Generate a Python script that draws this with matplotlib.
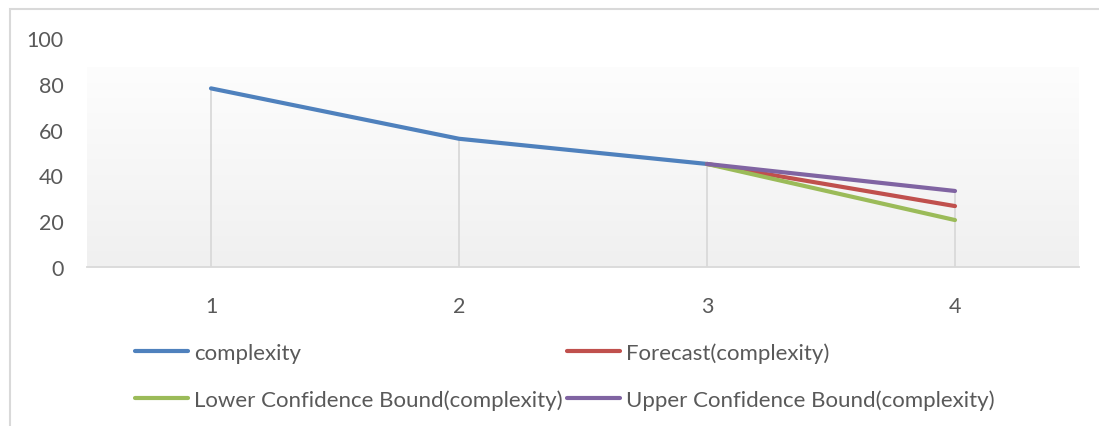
import numpy as np
import matplotlib
matplotlib.use("Agg")
import matplotlib.pyplot as plt
from matplotlib.patches import Rectangle
from matplotlib.colors import LinearSegmentedColormap

categories = [1, 2, 3, 4]
complexity = [78, 56, 45, np.nan]
forecast = [np.nan, np.nan, 45, 26.6]
lower_bound = [np.nan, np.nan, 45, 20.5]
upper_bound = [np.nan, np.nan, 45, 33.2]
series_names = ["complexity", "Forecast(complexity)",
                "Lower Confidence Bound(complexity)", "Upper Confidence Bound(complexity)"]
colors = ["#4f81bd", "#c0504d", "#9bbb59", "#8064a2"]
yticks = [0, 20, 40, 60, 80, 100]

plt.rcParams['font.family'] = ['Lato', 'DejaVu Sans']
W, H = 1099, 427
fig = plt.figure(figsize=(W/100, H/100), dpi=100)
fig.patch.set_facecolor("white")

# outer chart border
fig.patches.append(Rectangle((10/W, -0.1), 1.2, (H-10)/H + 0.1, transform=fig.transFigure,
                             fill=False, edgecolor="#d9d9d9", linewidth=1.5))

ax = fig.add_axes([87/W, (H-268)/H, (1079-87)/W, (268-39)/H])
ax.set_xlim(0.5, 4.5)
ax.set_ylim(0, 100)

# gradient plot-area fill
grad = np.linspace(0, 1, 256).reshape(-1, 1)
cmap = LinearSegmentedColormap.from_list("g", ["#f0f0f0", "#fdfdfd"])
ax.imshow(grad, extent=[0.5, 4.5, 0, 87], origin="lower", cmap=cmap, aspect="auto", zorder=0)

all_series = [complexity, forecast, lower_bound, upper_bound]
# drop lines
tops = np.nanmax(np.array(all_series, dtype=float), axis=0)
ax.vlines(categories, 0, tops, color="#d9d9d9", linewidth=1.3, zorder=1)

handles = []
for s, name, c in zip(all_series, series_names, colors):
    h, = ax.plot(categories, s, color=c, linewidth=3, solid_capstyle="round",
                 solid_joinstyle="round", label=name, zorder=3)
    handles.append(h)

for sp in ["top", "right", "left"]:
    ax.spines[sp].set_visible(False)
ax.spines["bottom"].set_color("#d9d9d9")
ax.spines["bottom"].set_linewidth(1.3)
ax.spines["bottom"].set_zorder(2)

ax.set_xticks(categories)
ax.set_yticks(yticks)
ax.tick_params(axis="both", length=0, labelsize=15.5, labelcolor="#595959")
ax.tick_params(axis="y", pad=17)
ax.tick_params(axis="x", pad=21)
ax.set_facecolor("white")

# row-wise legend order: (complexity, Forecast) / (Lower, Upper)
order = [0, 2, 1, 3]
leg = fig.legend(handles=[handles[i] for i in order], labels=[series_names[i] for i in order],
                 ncol=2, loc="upper left",
                 bbox_to_anchor=(135/W, (H-343)/H), frameon=False, fontsize=16,
                 handlelength=2.4, handletextpad=0.25, columnspacing=0.2,
                 labelspacing=1.2, borderaxespad=0, borderpad=0)
for t in leg.get_texts():
    t.set_color("#595959")

fig.savefig("out.png", dpi=100)
